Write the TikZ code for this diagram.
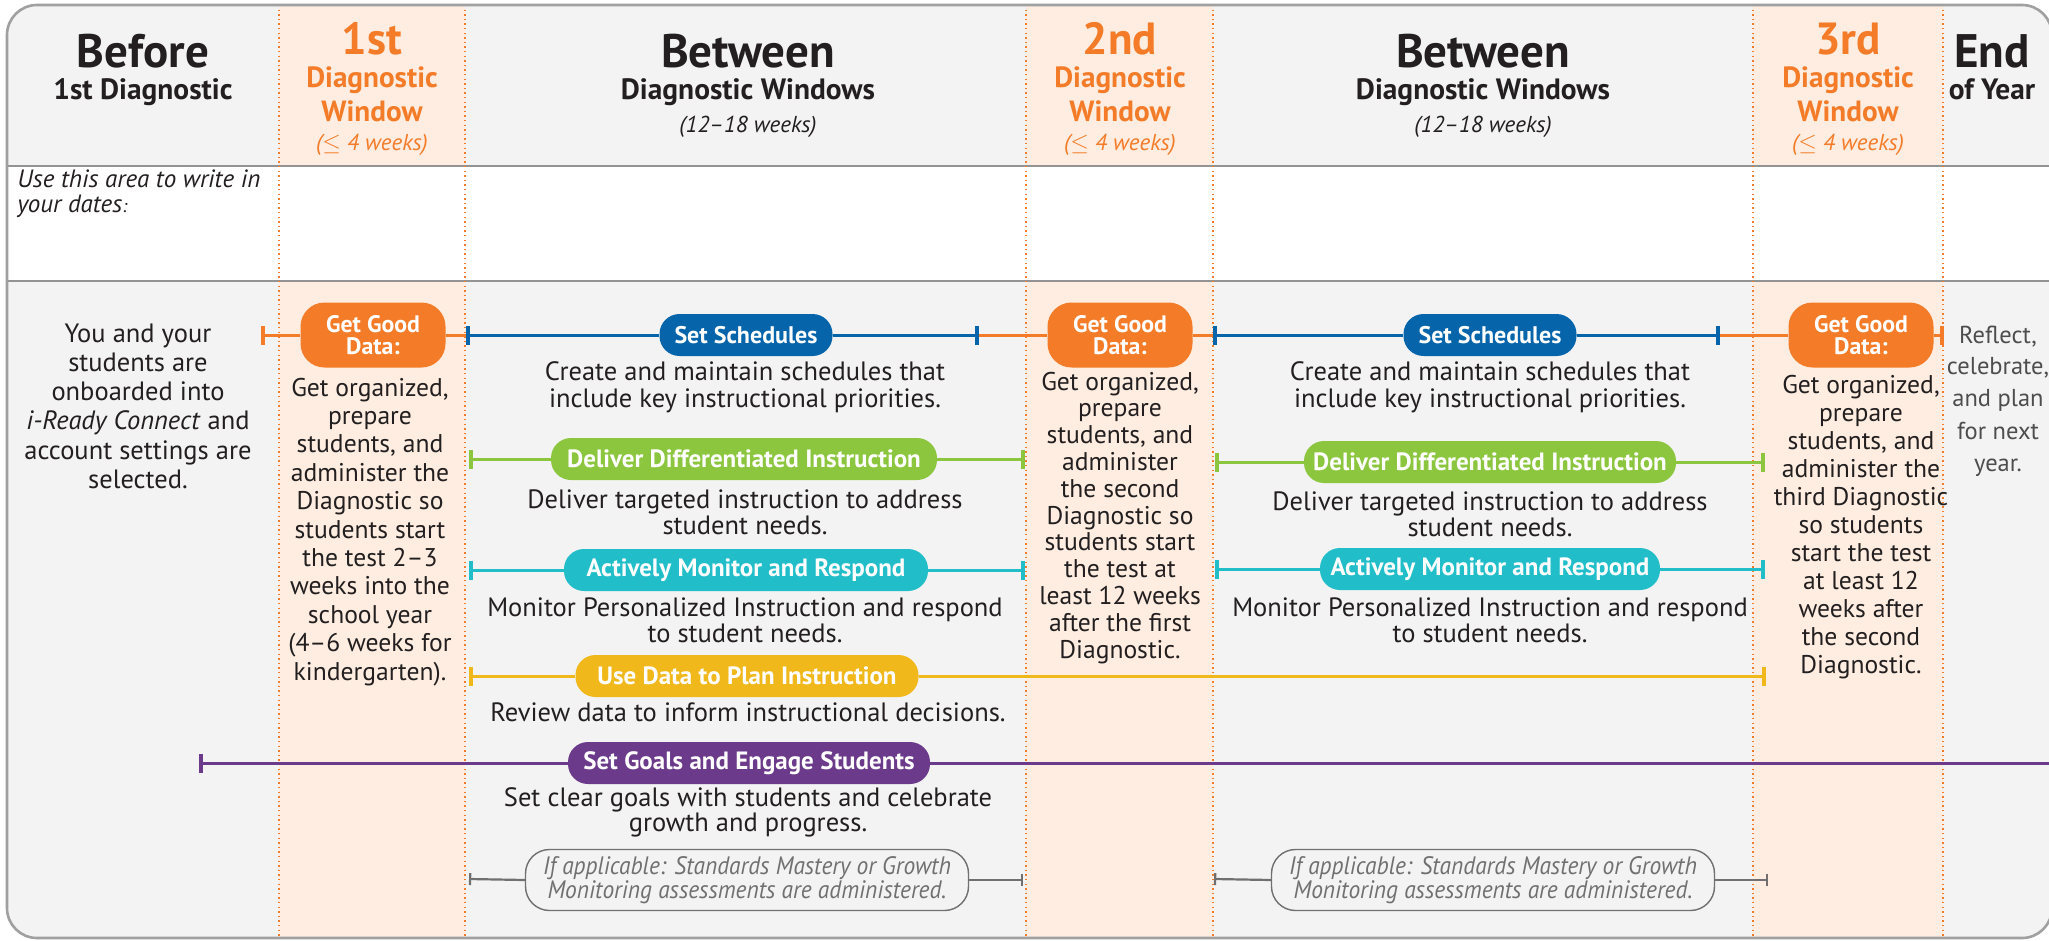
\documentclass[tikz,border=0pt]{standalone}
\usepackage{fontspec}
\setmainfont{PT Sans}
\usetikzlibrary{arrows.meta}
\definecolor{ink}{HTML}{231F20}
\definecolor{bggray}{HTML}{F2F3F2}
\definecolor{colorg}{HTML}{FEEDE0}
\definecolor{orng}{HTML}{F47B27}
\definecolor{blu}{HTML}{0664AA}
\definecolor{grn}{HTML}{8CC63F}
\definecolor{teal}{HTML}{21BEC9}
\definecolor{yel}{HTML}{F1B81C}
\definecolor{purp}{HTML}{6B3A8A}
\definecolor{boxgray}{HTML}{707070}
\definecolor{softink}{HTML}{4D4D4D}
\definecolor{framegray}{HTML}{A0A0A0}
\newcommand{\mlc}[1]{\begin{tabular}[t]{@{}c@{}}#1\end{tabular}}
\newcommand{\mll}[1]{\begin{tabular}[t]{@{}l@{}}#1\end{tabular}}
\begin{document}
\begin{tikzpicture}[x=0.5pt,y=-0.5pt,
  >={Bar[width=9.5pt,line width=1.9pt]},
  txt/.style={inner sep=0pt, text=ink, anchor=base},
  body/.style={txt, font=\fontsize{13.25}{#1}\selectfont},
  body/.default=13.9,
  colbody/.style={txt, font=\fontsize{12.8}{#1}\selectfont},
  hbig/.style={txt, font=\bfseries\fontsize{23.5}{24}\selectfont},
  hnum/.style={txt, text=orng, font=\bfseries\fontsize{22.5}{23}\selectfont},
  hsub/.style={txt, font=\bfseries\fontsize{14.7}{14}\selectfont},
  hmid/.style={txt, text=orng, font=\bfseries\fontsize{14.6}{14}\selectfont},
  hwk/.style={txt, text=orng, font=\itshape\fontsize{11.5}{12}\selectfont},
  hwks/.style={txt, font=\itshape\fontsize{11.5}{12}\selectfont},
  pill/.style={rounded corners=10pt, inner sep=0pt, minimum height=21pt, text=white, font=\bfseries\fontsize{12.5}{12}\selectfont},
  ggd/.style={pill, fill=orng, rounded corners=12pt, minimum width=72.5pt, minimum height=32.5pt, align=center, font=\bfseries\fontsize{11.9}{11}\selectfont},
  ifbox/.style={draw=boxgray, line width=0.7pt, fill=bggray, rounded corners=12pt, inner sep=0pt, minimum width=221.5pt, minimum height=30.5pt, text=boxgray, align=center, font=\itshape\fontsize{12.6}{12}\selectfont\addfontfeature{FakeStretch=0.93}},
  ln/.style={line width=1.5pt},
  dotln/.style={orng, line width=0.7pt, dash pattern=on 0.7pt off 1.6pt},
  hline/.style={draw=gray!85, line width=1pt}
]
\useasboundingbox (0,0) rectangle (2049,941);
% ---------- background ----------
\begin{scope}
\clip[rounded corners=15pt] (7,5) rectangle (2052,938);
\fill[bggray] (0,0) rectangle (2060,945);
\fill[colorg] (279,0) rectangle (465,945);
\fill[colorg] (1026,0) rectangle (1213,945);
\fill[colorg] (1753,0) rectangle (1943,945);
\fill[white] (0,166) rectangle (2060,281);
\draw[hline] (0,166) -- (2060,166);
\draw[hline] (0,281) -- (2060,281);
\foreach \xx in {279,465,1026,1213,1753,1943} \draw[dotln] (\xx,5) -- (\xx,940);
\end{scope}
\draw[framegray, line width=1.3pt, rounded corners=15pt] (7,5) rectangle (2052,938);
% ---------- header ----------
\node[hbig] (hbefore) at (143,68) {Before};
\node[hsub] (hbefore2) at (143,100) {1st Diagnostic};
\node[hnum] (hw1a) at (372,55) {1st};
\node[hmid] (hw1b) at (372,88) {Diagnostic};
\node[hmid] (hw1c) at (372,122) {Window};
\node[hwk] (hw1d) at (372,151) {($\leq$ 4 weeks)};
\node[hbig] (hbt1) at (748,68) {Between};
\node[hsub] (hbt1b) at (748,100) {Diagnostic Windows};
\node[hwks] (hbt1c) at (748,133) {(12–18 weeks)};
\node[hnum] (hw2a) at (1120,55) {2nd};
\node[hmid] (hw2b) at (1120,88) {Diagnostic};
\node[hmid] (hw2c) at (1120,122) {Window};
\node[hwk] (hw2d) at (1120,151) {($\leq$ 4 weeks)};
\node[hbig] (hbt2) at (1483,68) {Between};
\node[hsub] (hbt2b) at (1483,100) {Diagnostic Windows};
\node[hwks] (hbt2c) at (1483,133) {(12–18 weeks)};
\node[hnum] (hw3a) at (1848,55) {3rd};
\node[hmid] (hw3b) at (1848,88) {Diagnostic};
\node[hmid] (hw3c) at (1848,122) {Window};
\node[hwk] (hw3d) at (1848,151) {($\leq$ 4 weeks)};
\node[hbig] (hend) at (1992,68) {End};
\node[hsub] (hend2) at (1992,100) {of Year};
% ---------- dates row ----------
\node[txt, anchor=base west, font=\itshape\fontsize{12.5}{12}\selectfont] (dates) at (17,188) {\mll{Use this area to write in\\your dates{\fontsize{9}{9}\selectfont:}}};
% ---------- column texts ----------
\node[body=14.65] (onb) at (138,342) {\mlc{You and your\\students are\\onboarded into\\\textit{i-Ready Connect} and\\account settings are\\selected.}};
\node[colbody=14.2] (c1txt) at (370,396) {\mlc{Get organized,\\prepare\\students, and\\administer the\\Diagnostic so\\students start\\the test 2–3\\weeks into the\\school year\\(4–6 weeks for\\kindergarten).}};
\node[colbody=13.4] (c2txt) at (1120,390) {\mlc{Get organized,\\prepare\\students, and\\administer\\the second\\Diagnostic so\\students start\\the test at\\least 12 weeks\\after the first\\Diagnostic.}};
\node[colbody=14] (c3txt) at (1861,393) {\mlc{Get organized,\\prepare\\students, and\\administer the\\third Diagnostic\\so students\\start the test\\at least 12\\weeks after\\the second\\Diagnostic.}};
\node[txt, text=softink, font=\fontsize{12.25}{16}\selectfont] (refl) at (1998,343) {\mlc{Reflect,\\celebrate,\\and plan\\for next\\year.}};
% ---------- pills ----------
\node[ggd] (ggd1) at (373,335) {Get Good\\Data:};
\node[ggd] (ggd2) at (1120,335) {Get Good\\Data:};
\node[ggd] (ggd3) at (1861,335) {Get Good\\Data:};
\node[pill, fill=blu, minimum width=86.5pt, font=\bfseries\fontsize{12}{12}\selectfont] (ss1) at (746,335) {Set Schedules};
\node[pill, fill=blu, minimum width=86.5pt, font=\bfseries\fontsize{12}{12}\selectfont] (ss2) at (1490,335) {Set Schedules};
\node[pill, fill=grn, minimum width=193pt] (ddi1) at (744,459) {Deliver Differentiated Instruction};
\node[pill, fill=grn, minimum width=186pt] (ddi2) at (1490,462) {Deliver Differentiated Instruction};
\node[pill, fill=teal, minimum width=182pt] (amr1) at (746,570) {Actively Monitor and Respond};
\node[pill, fill=teal, minimum width=170pt] (amr2) at (1490,569) {Actively Monitor and Respond};
\node[pill, fill=yel, minimum width=171.5pt] (udp) at (747,676) {Use Data to Plan Instruction};
\node[pill, fill=purp, minimum width=181pt] (sge) at (749,763) {Set Goals and Engage Students};
\node[ifbox] (ifa) at (747,880) {If applicable: Standards Mastery or Growth\\Monitoring assessments are administered.};
\node[ifbox] (ifb) at (1493,880) {If applicable: Standards Mastery or Growth\\Monitoring assessments are administered.};
% ---------- descriptions ----------
\node[body=13.5] (dss1) at (745,380) {\mlc{Create and maintain schedules that\\include key instructional priorities.}};
\node[body=13.5] (dss2) at (1490,380) {\mlc{Create and maintain schedules that\\include key instructional priorities.}};
\node[body=13.4] (dddi1) at (745,508) {\mlc{Deliver targeted instruction to address\\student needs.}};
\node[body=13.4] (dddi2) at (1490,510) {\mlc{Deliver targeted instruction to address\\student needs.}};
\node[body=12.6] (damr1) at (745,616) {\mlc{Monitor Personalized Instruction and respond\\to student needs.}};
\node[body=12.6] (damr2) at (1490,616) {\mlc{Monitor Personalized Instruction and respond\\to student needs.}};
\node[body] (dudp) at (748,721) {Review data to inform instructional decisions.};
\node[body=12.4] (dsge) at (748,806) {\mlc{Set clear goals with students and celebrate\\growth and progress.}};
% ---------- timeline coordinates ----------
\coordinate (r1a) at (261,335); \coordinate (r1b) at (466,335);
\coordinate (r1c) at (979,335); \coordinate (r1d) at (1213,335);
\coordinate (r1e) at (1720,335); \coordinate (r1f) at (1944,335);
\coordinate (r2a) at (469,459); \coordinate (r2b) at (1025,459);
\coordinate (r2c) at (1215,462); \coordinate (r2d) at (1765,462);
\coordinate (r3a) at (469,570); \coordinate (r3b) at (1025,570);
\coordinate (r3c) at (1215,569); \coordinate (r3d) at (1765,569);
\coordinate (r4a) at (469,676); \coordinate (r4b) at (1766,676);
\coordinate (r5a) at (199,763); \coordinate (r5b) at (2060,763);
\coordinate (r6a) at (469,879); \coordinate (r6b) at (1023,880);
\coordinate (r6c) at (1214,879); \coordinate (r6d) at (1768,880);
% ---------- timelines ----------
\draw[ln, orng, <-] (r1a) -- (ggd1.west);
\draw[ln, orng] (ggd1.east) -- (r1b);
\draw[ln, orng] (r1c) -- (ggd2.west);
\draw[ln, orng] (ggd2.east) -- (r1d);
\draw[ln, orng] (r1e) -- (ggd3.west);
\draw[ln, orng, ->] (ggd3.east) -- (r1f);
\draw[ln, blu, <-] (r1b) -- (ss1.west);
\draw[ln, blu, ->] (ss1.east) -- (r1c);
\draw[ln, blu, <-] (r1d) -- (ss2.west);
\draw[ln, blu, ->] (ss2.east) -- (r1e);
\draw[ln, grn, <-] (r2a) -- (ddi1.west);
\draw[ln, grn, ->] (ddi1.east) -- (r2b);
\draw[ln, grn, <-] (r2c) -- (ddi2.west);
\draw[ln, grn, ->] (ddi2.east) -- (r2d);
\draw[ln, teal, <-] (r3a) -- (amr1.west);
\draw[ln, teal, ->] (amr1.east) -- (r3b);
\draw[ln, teal, <-] (r3c) -- (amr2.west);
\draw[ln, teal, ->] (amr2.east) -- (r3d);
\draw[ln, yel, <-] (r4a) -- (udp.west);
\draw[ln, yel, ->] (udp.east) -- (r4b);
\draw[ln, purp, <-] (r5a) -- (sge.west);
\draw[ln, purp] (sge.east) -- (r5b);
\draw[line width=1.1pt, boxgray, {Bar[width=6pt,line width=1.1pt]}-] (r6a) -- (ifa.west);
\draw[line width=1.1pt, boxgray, -{Bar[width=6pt,line width=1.1pt]}] (ifa.east) -- (r6b);
\draw[line width=1.1pt, boxgray, {Bar[width=6pt,line width=1.1pt]}-] (r6c) -- (ifb.west);
\draw[line width=1.1pt, boxgray, -{Bar[width=6pt,line width=1.1pt]}] (ifb.east) -- (r6d);
\end{tikzpicture}
\end{document}
